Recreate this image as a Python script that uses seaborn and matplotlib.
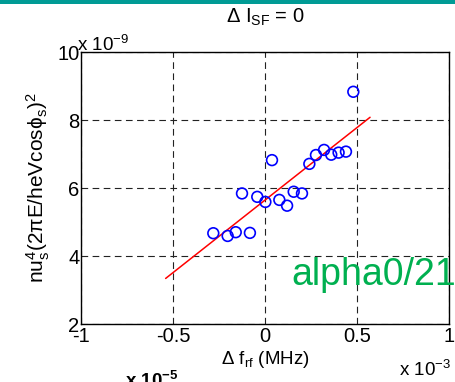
import numpy as np
import pandas as pd
import matplotlib
matplotlib.use("Agg")
import matplotlib.pyplot as plt
from matplotlib.patches import Rectangle
import seaborn as sns

# RF frequency offset (units of 1e-3 MHz) and scaled synchrotron tune term (units of 1e-9)
delta_f_rf = [-0.281, -0.203, -0.159, -0.082, -0.125, -0.042, 0.002, 0.038, 0.078,
              0.120, 0.156, 0.201, 0.241, 0.277, 0.321, 0.360, 0.400, 0.440, 0.480]
nu_term = [4.67, 4.59, 4.70, 4.68, 5.84, 5.74, 5.59, 6.82, 5.65,
           5.48, 5.89, 5.84, 6.71, 6.97, 7.12, 6.98, 7.04, 7.07, 8.83]

# linear fit endpoints
fit_f = [-0.54, 0.571]
fit_nu = [3.34, 8.08]

x_ticks = [-1, -0.5, 0, 0.5, 1]
y_ticks = [2, 4, 6, 8, 10]

sns.set_theme(style="white")
plt.rcParams["font.family"] = ["Liberation Sans", "DejaVu Sans"]
plt.rcParams["mathtext.default"] = "regular"
plt.rcParams["axes.unicode_minus"] = False

fig = plt.figure(figsize=(4.55, 3.82), dpi=100)
fig.patch.set_facecolor("white")
ax = fig.add_axes([81 / 455, 1 - 324 / 382, 368 / 455, 272 / 382])
ax.set_facecolor("white")

pts = pd.DataFrame({"f": delta_f_rf, "nu": nu_term})
fit = pd.DataFrame({"f": fit_f, "nu": fit_nu})

sns.lineplot(data=fit, x="f", y="nu", color="red", linewidth=1.1, ax=ax, zorder=3)
sns.scatterplot(data=pts, x="f", y="nu", marker="o", s=60, facecolors="none",
                edgecolor="blue", linewidth=1.2, ax=ax, zorder=4)

ax.set_xlim(-1, 1)
ax.set_ylim(2, 10)
ax.set_xticks(x_ticks)
ax.set_yticks(y_ticks)
ax.set_xticklabels([f"{v:g}" for v in x_ticks])
ax.set_yticklabels([f"{v:g}" for v in y_ticks])
ax.tick_params(axis="both", direction="in", length=3, width=0.8, labelsize=14.5,
               colors="black")
ax.tick_params(axis="x", pad=2.5)
ax.tick_params(axis="y", pad=1)

ax.grid(True, color="#222222", linestyle=(0, (6, 4)), linewidth=0.8)
for sp in ax.spines.values():
    sp.set_color("black")
    sp.set_linewidth(1.0)
    sp.set_visible(True)

ax.set_xlabel("Δ f$_{rf}$ (MHz)", fontsize=13.5, labelpad=2, color="black")
ax.set_ylabel("nu$_s^4$(2πE/heVcosϕ$_s$)$^2$", fontsize=15, labelpad=4,
              color="black")
ax.set_title("Δ I$_{SF}$ = 0", fontsize=14.5, pad=21, color="black")

# exponent labels for the scaled axes
fig.text(77 / 455, 1 - 51 / 382, "x 10$^{-9}$", fontsize=13.5, va="baseline",
         ha="left", color="black")
fig.text(451 / 455, 1 - 376 / 382, "x 10$^{-3}$", fontsize=13.5, va="baseline",
         ha="right", color="black")
fig.text(125 / 455, 1 - 387 / 382, "x 10$^{-5}$", fontsize=13.5, fontweight="bold",
         va="baseline", ha="left", color="black")

fig.text(291 / 455, 1 - 285 / 382, "alpha0/21", fontsize=27, color="#00B050",
         va="baseline", ha="left", zorder=10)

# header band
fig.patches.append(Rectangle((0, 1 - 3.5 / 382), 1, 3.5 / 382, transform=fig.transFigure,
                             facecolor="#009B95", edgecolor="none", zorder=0))

fig.savefig("out.png", dpi=100)
